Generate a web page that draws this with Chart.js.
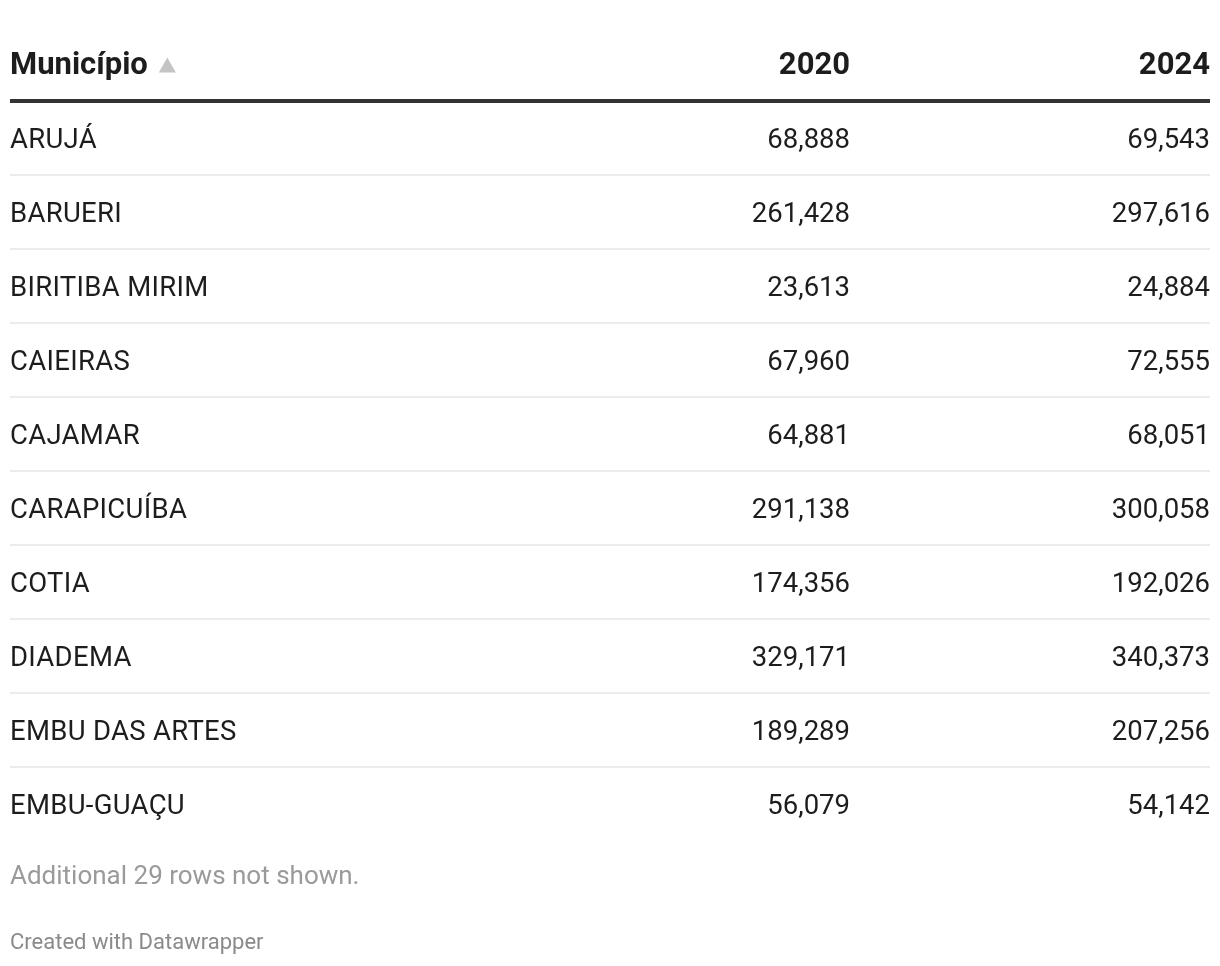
<!DOCTYPE html>
<html>
<head>
<meta charset="utf-8">
<script src="https://cdn.jsdelivr.net/npm/chart.js@4.4.1/dist/chart.umd.min.js"></script>
<style>
  html, body { margin: 0; padding: 0; background: #ffffff; }
  #wrap { width: 1220px; height: 966px; }
</style>
</head>
<body>
<div id="wrap"><canvas id="c" width="1220" height="966"></canvas></div>
<script>
const municipios = ['ARUJÁ', 'BARUERI', 'BIRITIBA MIRIM', 'CAIEIRAS', 'CAJAMAR', 'CARAPICUÍBA', 'COTIA', 'DIADEMA', 'EMBU DAS ARTES', 'EMBU-GUAÇU'];
const pop2020 = [68888, 261428, 23613, 67960, 64881, 291138, 174356, 329171, 189289, 56079];
const pop2024 = [69543, 297616, 24884, 72555, 68051, 300058, 192026, 340373, 207256, 54142];
const columnHeaders = ['Município', '2020', '2024'];
const footnote = 'Additional 29 rows not shown.';
const credit = 'Created with Datawrapper';

const FONT = 'Roboto, "Liberation Sans", sans-serif';
const colAnchor = [0, 840, 1200];          // column anchors on the x scale
const colAlign = ['left', 'right', 'right'];

function cellData(col, values) {
  return municipios.map((m, i) => ({ x: colAnchor[col], y: m, text: values ? values[i].toLocaleString('en-US') : m }));
}

const tablePlugin = {
  id: 'tableText',
  afterDatasetsDraw(chart) {
    const ctx = chart.ctx;
    const xs = chart.scales.x;
    const area = chart.chartArea;
    ctx.save();
    // body cells
    chart.data.datasets.forEach((ds, di) => {
      const meta = chart.getDatasetMeta(di);
      ctx.font = '400 27.5px ' + FONT;
      ctx.letterSpacing = di === 0 ? '0.3px' : '0px';
      ctx.fillStyle = '#1d1d1d';
      ctx.textAlign = colAlign[di];
      ctx.textBaseline = 'alphabetic';
      meta.data.forEach((pt, i) => {
        ctx.fillText(ds.data[i].text, pt.x, pt.y + 10);
      });
    });
    ctx.letterSpacing = '0px';
    // header
    const hy = area.top - 27.5;
    ctx.font = '700 31px ' + FONT;
    ctx.fillStyle = '#1d1d1d';
    columnHeaders.forEach((h, c) => {
      ctx.textAlign = colAlign[c];
      ctx.fillText(h, xs.getPixelForValue(colAnchor[c]), hy);
    });
    // sort triangle
    ctx.textAlign = 'left';
    const hw = ctx.measureText(columnHeaders[0]).width;
    const tx = xs.getPixelForValue(colAnchor[0]) + hw + 11;
    ctx.beginPath();
    ctx.moveTo(tx, hy - 1);
    ctx.lineTo(tx + 17, hy - 1);
    ctx.lineTo(tx + 8.5, hy - 16);
    ctx.closePath();
    ctx.fillStyle = '#c4c4c4';
    ctx.fill();
    // footnote & credit
    ctx.font = '400 26px ' + FONT;
    ctx.fillStyle = '#9a9a9a';
    ctx.fillText(footnote, area.left, area.bottom + 43);
    ctx.font = '400 22px ' + FONT;
    ctx.fillStyle = '#8a8a8a';
    ctx.fillText(credit, area.left, area.bottom + 108);
    ctx.restore();
  }
};

new Chart(document.getElementById('c'), {
  type: 'scatter',
  data: {
    datasets: [
      { label: columnHeaders[0], data: cellData(0, null) },
      { label: columnHeaders[1], data: cellData(1, pop2020) },
      { label: columnHeaders[2], data: cellData(2, pop2024) }
    ]
  },
  options: {
    responsive: false,
    animation: false,
    events: [],
    layout: { padding: { left: 10, right: 10, top: 101, bottom: 125 } },
    elements: { point: { radius: 0, hoverRadius: 0 } },
    plugins: { legend: { display: false }, tooltip: { enabled: false } },
    scales: {
      x: { type: 'linear', min: 0, max: 1200, display: false },
      y: {
        type: 'category',
        labels: municipios,
        offset: true,
        border: { display: false },
        ticks: { display: false },
        grid: {
          offset: true,
          drawTicks: false,
          color: (c) => c.tick === undefined ? 'rgba(0,0,0,0)' : (c.index === 0 ? '#333333' : '#ececec'),
          lineWidth: (c) => c.index === 0 ? 4 : 2
        }
      }
    }
  },
  plugins: [tablePlugin]
});
</script>
</body>
</html>
